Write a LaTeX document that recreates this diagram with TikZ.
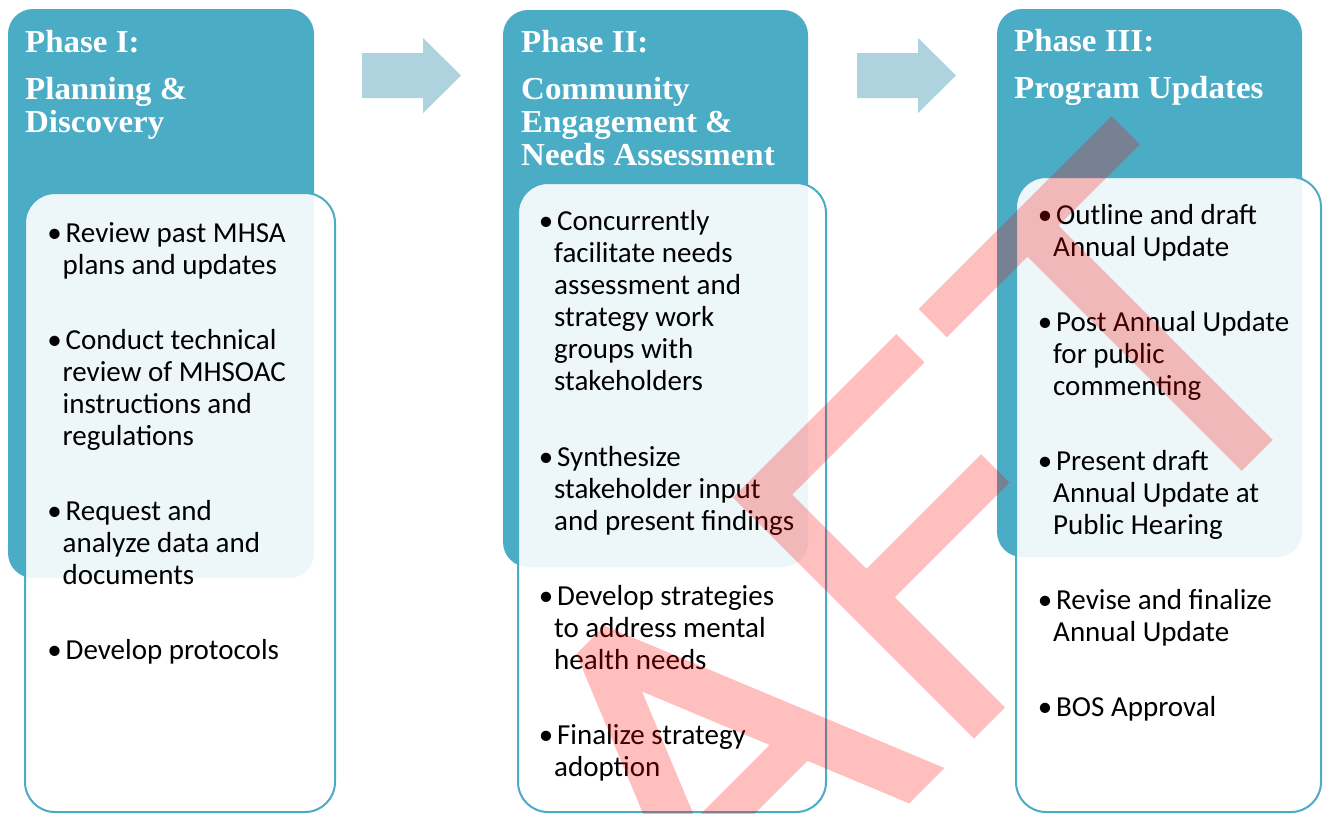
\documentclass[tikz,border=0pt]{standalone}
\usepackage{fontspec}
\setmainfont{Carlito}
\newfontfamily\headfont[FakeStretch=1.03]{Liberation Serif}

\definecolor{phaseteal}{RGB}{75,172,198}
\definecolor{arrowblue}{RGB}{174,210,222}

% hanging bullet for the first line of each list item
\newcommand\bul{\makebox[0pt][r]{•\hspace{1pt}}\hspace{3pt}}

\tikzset{
  phasebox/.style={fill=phaseteal, rounded corners=25pt},
  listbox/.style={fill=white, fill opacity=0.9, draw=phaseteal, line width=2pt, rounded corners=30pt},
  headline/.style={anchor=base west, inner sep=0pt, text=white,
    font=\headfont\bfseries\fontsize{32}{33}\selectfont},
  itemline/.style={anchor=base west, inner sep=0pt, text=black,
    font=\fontsize{29}{32}\selectfont},
  flowarrow/.style={fill=arrowblue},
  watermark/.style={fill=red, opacity=0.25},
}

\begin{document}
\begin{tikzpicture}[x=1pt,y=-1pt]
\useasboundingbox (0,0) rectangle (1323,814);
\fill[white] (0,0) rectangle (1323,814);

% phase header panels
\fill[phasebox] (8,9)    rectangle (314,578);
\fill[phasebox] (503,10) rectangle (808,567);
\fill[phasebox] (997,9)  rectangle (1302,557);

% task list panels
\path[listbox] (25,193)   rectangle (335,812);
\path[listbox] (518,183)  rectangle (826,812);
\path[listbox] (1016,177) rectangle (1321,812);

% block arrows between phases
\fill[flowarrow] (362,53) -- (423,53) -- (423,38) -- (461,75.5) -- (423,113) -- (423,98) -- (362,98) -- cycle;
\fill[flowarrow] (857,53) -- (918,53) -- (918,38) -- (956,75.5) -- (918,113) -- (918,98) -- (857,98) -- cycle;

% headings
\foreach \y/\t [count=\i] in {52/{Phase I:}, 99/{Planning \&}, 132/{Discovery}}
  \node[headline] (h1-\i) at (25,\y) {\t};
\foreach \y/\t [count=\i] in {52/{Phase II:}, 99/{Community}, 132/{Engagement \&}, 165/{Needs Assessment}}
  \node[headline] (h2-\i) at (521,\y) {\t};
\foreach \y/\t [count=\i] in {51/{Phase III:}, 98/{Program Updates}}
  \node[headline] (h3-\i) at (1014,\y) {\t};

% task lists
\foreach \y/\t [count=\i] in {
    242/{\bul Review past MHSA}, 274/{plans and updates},
    349/{\bul Conduct technical}, 381/{review of MHSOAC}, 413/{instructions and}, 445/{regulations},
    520/{\bul Request and}, 552/{analyze data and}, 584/{documents},
    659/{\bul Develop protocols}}
  \node[itemline] (t1-\i) at (62.5,\y) {\t};
\foreach \y/\t [count=\i] in {
    230/{\bul Concurrently}, 262/{facilitate needs}, 294/{assessment and},
    326/{strategy work}, 358/{groups with}, 390/{stakeholders},
    466/{\bul Synthesize}, 498/{stakeholder input}, 530/{and present findings},
    605/{\bul Develop strategies}, 637/{to address mental}, 669/{health needs},
    744/{\bul Finalize strategy}, 776/{adoption}}
  \node[itemline] (t2-\i) at (554,\y) {\t};
\foreach \y/\t [count=\i] in {
    224/{\bul Outline and draft}, 256/{Annual Update},
    331/{\bul Post Annual Update}, 363/{for public}, 395/{commenting},
    470/{\bul Present draft}, 502/{Annual Update at}, 534/{Public Hearing},
    609/{\bul Revise and finalize}, 641/{Annual Update},
    716/{\bul BOS Approval}}
  \node[itemline] (t3-\i) at (1053,\y) {\t};

% diagonal DRAFT stamp, drawn in letter coordinates (u along the text, v down the letters);
% every outline runs the same way round so overlaps are painted once
\begin{scope}
  \clip (0,0) rectangle (1323,814);
  \begin{scope}[x={(0.70711pt,0.70711pt)}, y={(0.70711pt,-0.70711pt)}]
    \fill[watermark]
      % A
      (-55,870) -- (-15,870) -- (124.8,1211) -- (74.8,1211) -- (-35,943)
        -- (-144.8,1211) -- (-194.8,1211) -- cycle
      (-110,1071) -- (40,1071) -- (40,1109) -- (-110,1109) -- cycle
      % F
      (166.5,870) -- (210.5,870) -- (210.5,1211) -- (166.5,1211) -- cycle
      (166.5,870) -- (397.4,870) -- (397.4,910) -- (166.5,910) -- cycle
      (166.5,1015) -- (372.6,1015) -- (372.6,1055) -- (166.5,1055) -- cycle
      % T
      (431,868) -- (704,868) -- (704,908) -- (431,908) -- cycle
      (545,888) -- (589,888) -- (589,1211) -- (545,1211) -- cycle;
  \end{scope}
\end{scope}
\end{tikzpicture}
\end{document}
